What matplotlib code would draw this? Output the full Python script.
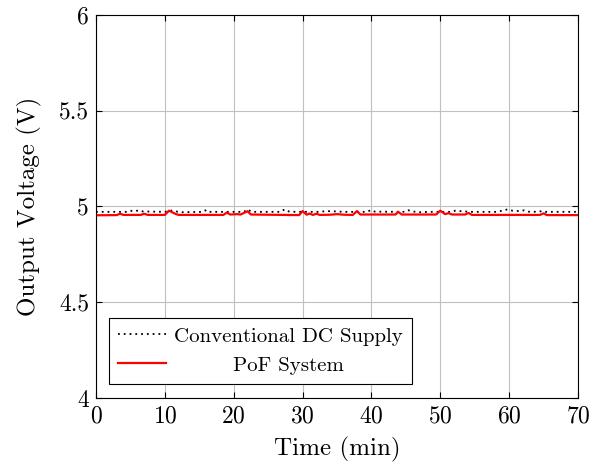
import matplotlib
matplotlib.use("Agg")
import matplotlib.pyplot as plt

plt.rcParams['font.family'] = ['cmr10', 'DejaVu Serif']
plt.rcParams['mathtext.fontset'] = 'cm'
plt.rcParams['axes.formatter.use_mathtext'] = True

# conventional DC supply (breakpoints, min / V)
t_dc = [0, 4.5, 5, 5.5, 6.3, 6.8, 10, 11.2, 11.8, 12.5, 15.5, 16.1, 16.6, 21.5, 22.0,
        22.6, 26.8, 27.4, 28, 29, 32.5, 33.5, 35, 36, 39.4, 39.9, 40.5, 45, 45.4, 46,
        47, 48.5, 51.5, 52.2, 53.5, 54.5, 58.3, 59.2, 59.8, 60.5, 61.5, 62.2, 62.8,
        64.3, 64.8, 65.3, 70]
v_dc = [4.972, 4.972, 4.978, 4.975, 4.980, 4.974, 4.972, 4.980, 4.973, 4.970, 4.972,
        4.983, 4.972, 4.972, 4.985, 4.972, 4.972, 4.985, 4.974, 4.972, 4.972, 4.976,
        4.974, 4.972, 4.972, 4.981, 4.973, 4.972, 4.980, 4.974, 4.970, 4.972, 4.972,
        4.978, 4.974, 4.972, 4.972, 4.980, 4.985, 4.978, 4.976, 4.980, 4.973, 4.972,
        4.977, 4.972, 4.972]

# PoF system
t_pof = [0, 3.0, 3.5, 4.0, 6.5, 7.0, 7.5, 10.0, 10.6, 11.5, 12.0, 18.5, 19.0, 19.5,
         20.5, 21.0, 22.0, 22.5, 29.5, 30.0, 30.6, 31.0, 31.5, 32.0, 32.5, 34, 35, 36,
         37.3, 37.9, 38.4, 43.5, 43.9, 44.4, 49.4, 50, 50.7, 51.2, 51.7, 53.6, 54.1,
         54.6, 64.5, 65, 65.5, 70]
v_pof = [4.954, 4.955, 4.962, 4.956, 4.956, 4.962, 4.956, 4.956, 4.978, 4.962, 4.956,
         4.956, 4.968, 4.958, 4.960, 4.958, 4.975, 4.958, 4.955, 4.976, 4.957, 4.963,
         4.956, 4.962, 4.956, 4.957, 4.960, 4.957, 4.956, 4.976, 4.958, 4.958, 4.972,
         4.958, 4.958, 4.978, 4.960, 4.965, 4.958, 4.958, 4.966, 4.956, 4.956, 4.964,
         4.955, 4.955]

fig = plt.figure(figsize=(5.94, 4.68), dpi=100)
ax = fig.add_axes([0.1616, 0.1496, 0.8114, 0.8184])

ax.plot(t_dc, v_dc, color='black', lw=1.3, ls=(0, (1, 2.2)), label='Conventional DC Supply')
ax.plot(t_pof, v_pof, color='red', lw=1.6, label='PoF System')

ax.set_xlim(0, 70)
ax.set_ylim(4, 6)
ax.set_xticks(range(0, 71, 10))
ax.set_yticks([4, 4.5, 5, 5.5, 6])
ax.set_yticklabels(['4', '4.5', '5', '5.5', '6'])
ax.tick_params(labelsize=17, direction='in', length=4, width=0.8, pad=5)
ax.tick_params(top=True, right=True)
ax.grid(True, color='#c0c0c0', lw=0.8)
for s in ax.spines.values():
    s.set_linewidth(0.8)
ax.set_xlabel('Time (min)', fontsize=18, labelpad=7)
ax.set_ylabel('Output Voltage (V)', fontsize=18, labelpad=12)

leg = ax.legend(loc='lower left', bbox_to_anchor=(0.027, 0.0366), borderaxespad=0,
                fontsize=15, fancybox=False, edgecolor='black', framealpha=1,
                handlelength=2.3, handletextpad=0.35, borderpad=0.45, labelspacing=0.5)
leg.get_frame().set_linewidth(0.8)

# center legend texts like pgfplots (offset is in pixels)
fig.canvas.draw()
r = fig.canvas.get_renderer()
texts = leg.get_texts()
widths = [t.get_window_extent(r).width for t in texts]
wmax = max(widths)
for t, w in zip(texts, widths):
    t.set_position(((wmax - w) / 2, 0))

fig.savefig('out.png', dpi=100)
